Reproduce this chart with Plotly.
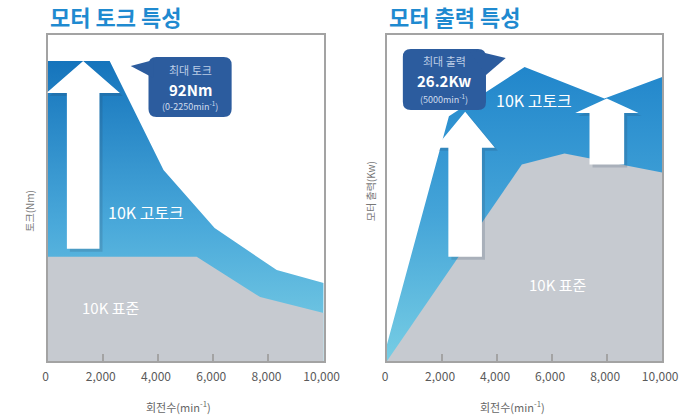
import plotly.graph_objects as go

W, H = 693, 418
# The page is drawn into an effective horizontal space of 678 px (viewport minus
# scrollbar), so horizontal pixel positions are converted with this width.
XS = 678

# ---------------- data ----------------
# Torque chart (Nm vs rpm)
torque_rpm_high = [0, 2250, 4200, 6050, 8300, 10000]
torque_high = [92, 92, 58.6, 40.8, 27.9, 23.9]
torque_rpm_std = [0, 5400, 7700, 10000]
torque_std = [32, 32, 19.6, 14.7]

# Power chart (kW vs rpm)
power_rpm_high = [0, 2250, 5000, 7900, 10000]
power_high = [1.5, 21.8, 26.2, 23.4, 25.3]
power_rpm_std = [0, 4900, 6450, 10000]
power_std = [0, 17.5, 18.5, 16.8]

x_ticks = [0, 2000, 4000, 6000, 8000, 10000]
x_tick_labels = ["0", "2,000", "4,000", "6,000", "8,000", "10,000"]

FONT = "Noto Sans CJK KR"
GRAY_FILL = "#c6cad0"
BLUE_SCALE = [[0, "#7dd0e5"], [0.45, "#4aa9da"], [1, "#1574bc"]]
CALLOUT = "#2c5c9e"
TITLE_BLUE = "#1f8ad0"

fig = go.Figure()

fig.add_trace(go.Scatter(
    x=torque_rpm_high, y=torque_high, mode="lines", line=dict(width=0),
    fill="tozeroy",
    fillgradient=dict(type="vertical", colorscale=BLUE_SCALE, start=0, stop=92),
    xaxis="x", yaxis="y", hoverinfo="skip", showlegend=False))
fig.add_trace(go.Scatter(
    x=torque_rpm_std, y=torque_std, mode="lines", line=dict(width=0),
    fill="tozeroy", fillcolor=GRAY_FILL,
    xaxis="x", yaxis="y", hoverinfo="skip", showlegend=False))
fig.add_trace(go.Scatter(
    x=power_rpm_high, y=power_high, mode="lines", line=dict(width=0),
    fill="tozeroy",
    fillgradient=dict(type="vertical", colorscale=[[0, "#76cde4"], [0.5, "#44a4d8"], [1, "#2186cb"]],
                      start=0, stop=26.2),
    xaxis="x2", yaxis="y2", hoverinfo="skip", showlegend=False))
fig.add_trace(go.Scatter(
    x=power_rpm_std, y=power_std, mode="lines", line=dict(width=0),
    fill="tozeroy", fillcolor=GRAY_FILL,
    xaxis="x2", yaxis="y2", hoverinfo="skip", showlegend=False))

ydom = [1 - 361 / H, 1 - 35 / H]
axis_common = dict(showgrid=False, zeroline=False, showline=True, mirror=True,
                   linecolor="#a3a3a3", linewidth=1.5)
xcommon = dict(axis_common, range=[0, 10000], tickvals=x_ticks, ticktext=x_tick_labels,
               ticks="inside", ticklen=7, tickwidth=1.5, tickcolor="#a3a3a3",
               tickfont=dict(family=FONT, size=12, color="#5a5a5a"),
               ticklabelstandoff=4, ticklabelshift=-2)
ycommon = dict(axis_common, showticklabels=False, ticks="")

fig.update_layout(
    width=W, height=H, margin=dict(l=0, r=0, t=0, b=0, pad=0),
    paper_bgcolor="white", plot_bgcolor="white", showlegend=False,
    xaxis=dict(xcommon, domain=[43 / XS, 322 / XS], anchor="y"),
    yaxis=dict(ycommon, domain=ydom, range=[0, 100], anchor="x"),
    xaxis2=dict(xcommon, domain=[386 / XS, 664 / XS], anchor="y2"),
    yaxis2=dict(ycommon, domain=ydom, range=[0, 29.05], anchor="x2"),
)

# ---------------- arrows (data coords) ----------------
def arrow_path(cx, tip, base, head_half, shaft_half, bottom, dx=0.0, dy=0.0):
    pts = [(cx, tip), (cx + head_half, base), (cx + shaft_half, base),
           (cx + shaft_half, bottom), (cx - shaft_half, bottom),
           (cx - shaft_half, base), (cx - head_half, base)]
    return "M " + " L ".join(f"{x + dx:.2f},{y + dy:.3f}" for x, y in pts) + " Z"

arrows = [
    ("x", "y", 1290, 92, 82.2, 1330, 590, 34.4, 100 / 326),
    ("x2", "y2", 2840, 22.2, 19.0, 1080, 610, 9.3, 29.05 / 326),
    ("x2", "y2", 7990, 23.4, 22.1, 1150, 630, 17.5, 29.05 / 326),
]
shapes = []
for xr, yr, cx, tip, base, hh, sh, bot, ypx in arrows:
    shapes.append(dict(type="path", xref=xr, yref=yr, layer="above",
                       path=arrow_path(cx, tip, base, hh, sh, bot, dx=110, dy=-3 * ypx),
                       fillcolor="rgba(40,60,90,0.18)", line=dict(width=0)))
    shapes.append(dict(type="path", xref=xr, yref=yr, layer="above",
                       path=arrow_path(cx, tip, base, hh, sh, bot),
                       fillcolor="white", line=dict(width=0)))

# ---------------- callouts (paper coords from pixels) ----------------
def P(px, py):
    return px / XS, 1 - py / H

def rounded_rect(x0, y0, x1, y1, r):
    def s(px, py):
        a, b = P(px, py)
        return f"{a:.5f},{b:.5f}"
    return (f"M {s(x0 + r, y0)} L {s(x1 - r, y0)} Q {s(x1, y0)} {s(x1, y0 + r)} "
            f"L {s(x1, y1 - r)} Q {s(x1, y1)} {s(x1 - r, y1)} "
            f"L {s(x0 + r, y1)} Q {s(x0, y1)} {s(x0, y1 - r)} "
            f"L {s(x0, y0 + r)} Q {s(x0, y0)} {s(x0 + r, y0)} Z")

def poly(points):
    return "M " + " L ".join("{:.5f},{:.5f}".format(*P(px, py)) for px, py in points) + " Z"

shapes += [
    dict(type="path", xref="paper", yref="paper", layer="above",
         path=rounded_rect(145, 57, 229, 117, 8), fillcolor=CALLOUT, line=dict(width=0)),
    dict(type="path", xref="paper", yref="paper", layer="above",
         path=poly([(150, 60), (127, 66), (150, 78)]), fillcolor=CALLOUT, line=dict(width=0)),
    dict(type="path", xref="paper", yref="paper", layer="above",
         path=rounded_rect(402, 49, 486, 110, 8), fillcolor=CALLOUT, line=dict(width=0)),
    dict(type="path", xref="paper", yref="paper", layer="above",
         path=poly([(468, 49), (506, 58), (486, 75)]), fillcolor=CALLOUT, line=dict(width=0)),
]
fig.update_layout(shapes=shapes)

# ---------------- text ----------------
def txt(px, py, text, size, color, bold=False, xanchor="center", angle=0):
    return dict(x=px / XS, y=1 - py / H, xref="paper", yref="paper",
                text=f"<b>{text}</b>" if bold else text,
                showarrow=False, xanchor=xanchor, yanchor="middle", textangle=angle,
                font=dict(family=FONT, size=size, color=color))

annotations = [
    txt(43, 16, "모터 토크 특성", 22, TITLE_BLUE, bold=True, xanchor="left"),
    txt(386, 16, "모터 출력 특성", 22, TITLE_BLUE, bold=True, xanchor="left"),
    txt(187, 70, "최대 토크", 11, "#bccde6"),
    txt(187, 89, "92Nm", 15, "white", bold=True),
    txt(187, 106, "(0-2250min<sup>-1</sup>)", 9, "#d0dcee"),
    txt(444, 61, "최대 출력", 11, "#bccde6"),
    txt(444, 81, "26.2Kw", 15, "white", bold=True),
    txt(444, 99, "(5000min<sup>-1</sup>)", 9, "#d0dcee"),
    txt(142, 212, "10K 고토크", 16, "white"),
    txt(107, 307, "10K 표준", 15, "white"),
    txt(535, 100, "10K 고토크", 16, "white"),
    txt(559, 284, "10K 표준", 15, "white"),
    txt(175, 406, "회전수(min<sup>-1</sup>)", 11, "#666"),
    txt(513, 406, "회전수(min<sup>-1</sup>)", 11, "#666"),
    txt(24, 211, "토크(Nm)", 10, "#777", angle=-90),
    txt(369, 191, "모터 출력(Kw)", 10, "#777", angle=-90),
]
fig.update_layout(annotations=annotations)

fig.write_html("out.html", config={"displayModeBar": False})
